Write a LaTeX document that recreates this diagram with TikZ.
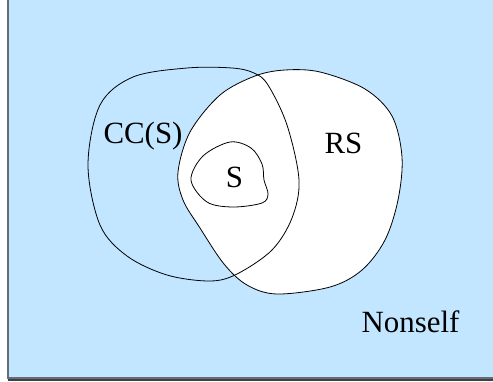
\documentclass[tikz,border=0pt]{standalone}
\usepackage{fontspec}
\setmainfont{Liberation Serif}
\definecolor{bgblue}{RGB}{194,230,255}
\definecolor{frame}{RGB}{100,108,118}
\begin{document}
\begin{tikzpicture}[x=1bp,y=-1bp,
  lbl/.style={font=\fontsize{31}{36}\selectfont, anchor=base, inner sep=0pt},
  curve/.style={line width=0.8bp, black}]
\useasboundingbox (0,0) rectangle (493,381);
% background
\fill[bgblue] (8,-10) rectangle (510,378);
\draw[frame, line width=1.5bp] (8,-10) -- (8,378) -- (510,378);
\draw[black!75, line width=2bp] (8,380) -- (510,380);
% RS region
\draw[curve, fill=white] plot[smooth cycle, tension=0.55] coordinates {
  (178,172) (190,132) (220,95) (255,76) (285,70) (320,72) (365,89) (392,116)
  (402,157) (398,200) (385,240) (362,270) (330,287) (277,294) (247,285)
  (224,264) (200,228) (183,200)};
% CC(S) region
\draw[curve] plot[smooth cycle, tension=0.55] coordinates {
  (88,165) (100,105) (133,77) (187,68) (232,68) (254,73) (268,85) (287,125)
  (299,180) (292,218) (272,250) (237,274) (210,281) (167,275) (127,256)
  (100,225)};
% S region
\draw[curve, fill=white] plot[smooth cycle, tension=0.55] coordinates {
  (191,180) (203,156) (230,142) (251,148) (262,164) (264,180) (268,194)
  (262,203) (233,207) (207,202)};
% labels
\node[lbl] (cc) at (143,143) {CC(S)};
\node[lbl] (rs) at (343.5,153) {RS};
\node[lbl] (s) at (234.5,187) {S};
\node[lbl] (ns) at (410.5,332) {Nonself};
\end{tikzpicture}
\end{document}
